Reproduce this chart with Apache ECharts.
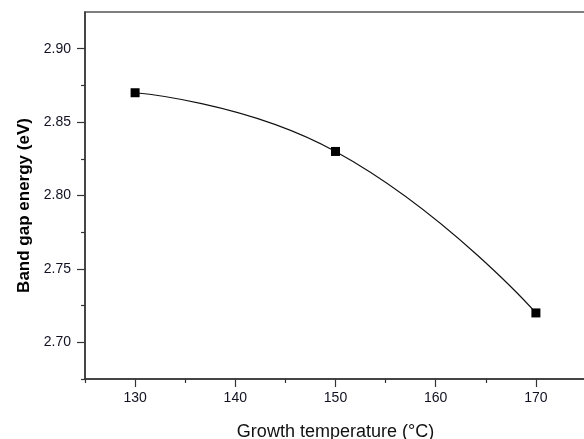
<!DOCTYPE html>
<html><head><meta charset="utf-8">
<script src="https://cdn.jsdelivr.net/npm/echarts@6/dist/echarts.min.js"></script>
<style>html,body{margin:0;padding:0;background:#fff}#c{width:584px;height:439px}</style>
</head><body><div id="c"></div>
<script>
const temperatures = [130, 150, 170];
const bandGap = [2.87, 2.83, 2.72];
const xTickLabels = [130, 140, 150, 160, 170];
const xMinorTicks = [125, 135, 145, 155, 165, 175];
const yTickLabels = [2.70, 2.75, 2.80, 2.85, 2.90];
const yMinorTicks = [2.675, 2.725, 2.775, 2.825, 2.875];
const xTitle = 'Growth temperature (°C)';
const yTitle = 'Band gap energy (eV)';

const axisColor = '#333';
const labelColor = '#111122';
const font = 'Liberation Sans, Arial, sans-serif';

const chart = echarts.init(document.getElementById('c'), null, {renderer: 'canvas'});
const xMin = 125, xMax = 175, yMin = 2.675, yMax = 2.925;
chart.setOption({
  animation: false,
  grid: {left: 85, top: 12, width: 501, height: 367, show: true, borderColor: '#555', borderWidth: 1.5,
         containLabel: false, outerBoundsMode: 'none'},
  xAxis: [
    {type: 'value', min: xMin, max: xMax, position: 'bottom',
     axisLine: {show: true, onZero: false, lineStyle: {color: axisColor, width: 1.5}},
     axisTick: {show: true, inside: false, length: 4, customValues: xMinorTicks, lineStyle: {color: axisColor, width: 1.2}},
     splitLine: {show: false},
     axisLabel: {show: true, margin: 12, color: labelColor, fontFamily: font, fontSize: 14,
       customValues: xTickLabels, formatter: v => String(v)},
     name: xTitle, nameLocation: 'middle', nameGap: 44,
     nameTextStyle: {color: '#111', fontFamily: font, fontSize: 18}},
    {type: 'value', min: xMin, max: xMax, position: 'bottom', gridIndex: 0,
     axisLine: {show: false}, splitLine: {show: false}, axisLabel: {show: false},
     axisTick: {show: true, length: 8, customValues: xTickLabels, lineStyle: {color: axisColor, width: 1.2}}}
  ],
  yAxis: [
    {type: 'value', min: yMin, max: yMax, position: 'left',
     axisLine: {show: true, onZero: false, lineStyle: {color: axisColor, width: 1.5}},
     axisTick: {show: true, inside: false, length: 4, customValues: yMinorTicks, lineStyle: {color: axisColor, width: 1.2}},
     splitLine: {show: false},
     axisLabel: {show: true, margin: 14, color: labelColor, fontFamily: font, fontSize: 14,
       customValues: yTickLabels, formatter: v => v.toFixed(2)},
     name: yTitle, nameLocation: 'middle', nameGap: 52,
     nameTextStyle: {color: '#000', fontFamily: font, fontSize: 17, fontWeight: 'bold', padding: [0, 20, 0, 0]}},
    {type: 'value', min: yMin, max: yMax, position: 'left', gridIndex: 0,
     axisLine: {show: false}, splitLine: {show: false}, axisLabel: {show: false},
     axisTick: {show: true, length: 8, customValues: yTickLabels, lineStyle: {color: axisColor, width: 1.2}}}
  ],
  series: [{
    type: 'line', xAxisIndex: 0, yAxisIndex: 0,
    data: temperatures.map((t, i) => [t, bandGap[i]]),
    smooth: 0.5, symbol: 'rect', symbolSize: 9,
    itemStyle: {color: '#000'},
    lineStyle: {color: '#111', width: 1.2}
  }]
});
</script></body></html>
